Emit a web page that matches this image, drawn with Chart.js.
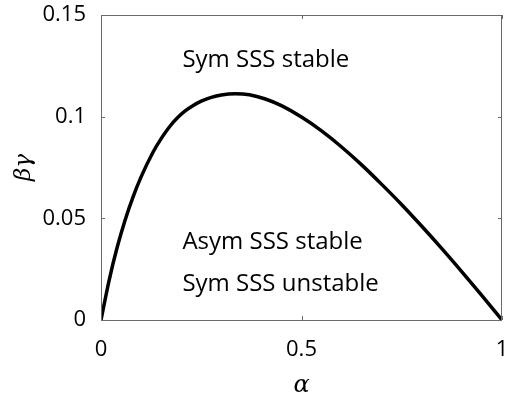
<!DOCTYPE html>
<html>
<head>
<meta charset="utf-8">
<script src="https://cdn.jsdelivr.net/npm/chart.js@4"></script>
<style>
  html, body { margin: 0; padding: 0; background: #ffffff; }
  #wrap { width: 506px; height: 400px; }
</style>
</head>
<body>
<div id="wrap"><canvas id="c" width="506" height="400"></canvas></div>
<script>
// ---- data ----
const alphaValues = [0, 0.02, 0.04, 0.06, 0.08, 0.10, 0.13, 0.15, 0.17, 0.19, 0.21, 0.23, 0.25, 0.275, 0.30, 0.335, 0.37, 0.41, 0.45, 0.50, 0.55, 0.60, 0.65, 0.70, 0.75, 0.80, 0.85, 0.90, 0.95, 1.0];
const betaGammaValues = [0, 0.0193, 0.0355, 0.0491, 0.0606, 0.0704, 0.0826, 0.0892, 0.0948, 0.0993, 0.1028, 0.1055, 0.1076, 0.1095, 0.1107, 0.1113, 0.1108, 0.1087, 0.1054, 0.0998, 0.0930, 0.0851, 0.0763, 0.0667, 0.0567, 0.0461, 0.0351, 0.0237, 0.0120, 0];
const xTicks = [0, 0.5, 1];
const yTicks = [0, 0.05, 0.1, 0.15];
const xTickLabels = ["0", "0.5", "1"];
const yTickLabels = ["0", "0.05", "0.1", "0.15"];
const annotationTexts = ["Sym SSS stable", "Asym SSS stable", "Sym SSS unstable"];
const annotationAlpha = [0.203, 0.203, 0.203];
const annotationBeta = [0.1246, 0.0348, 0.0143];

const points = alphaValues.map((a, i) => ({ x: a, y: betaGammaValues[i] }));

const framePlugin = {
  id: 'frame',
  afterDraw(chart) {
    const { ctx, chartArea: ca, scales } = chart;
    const xs = scales.x, ys = scales.y;
    ctx.save();
    ctx.strokeStyle = '#6a6a6a';
    ctx.lineWidth = 1;
    ctx.strokeRect(ca.left + 0.5, ca.top + 0.5, ca.right - ca.left - 1, ca.bottom - ca.top);
    const tl = 4;
    ctx.beginPath();
    xTicks.forEach(v => {
      const px = Math.round(xs.getPixelForValue(v)) + 0.5;
      ctx.moveTo(px, ca.bottom); ctx.lineTo(px, ca.bottom - tl);
      ctx.moveTo(px, ca.top); ctx.lineTo(px, ca.top + tl);
    });
    yTicks.forEach(v => {
      const py = Math.round(ys.getPixelForValue(v)) + 0.5;
      ctx.moveTo(ca.left, py); ctx.lineTo(ca.left + tl, py);
      ctx.moveTo(ca.right, py); ctx.lineTo(ca.right - tl, py);
    });
    ctx.stroke();
    ctx.fillStyle = '#000';
    ctx.font = '24px "Open Sans"';
    ctx.textAlign = 'left';
    ctx.textBaseline = 'alphabetic';
    annotationTexts.forEach((t, i) => {
      ctx.fillText(t, xs.getPixelForValue(annotationAlpha[i]), ys.getPixelForValue(annotationBeta[i]));
    });
    ctx.restore();
  }
};

new Chart(document.getElementById('c'), {
  type: 'scatter',
  data: {
    datasets: [{
      data: points,
      showLine: true,
      borderColor: '#000',
      borderWidth: 3.5,
      pointRadius: 0,
      fill: false,
      cubicInterpolationMode: 'monotone'
    }]
  },
  options: {
    responsive: false,
    animation: false,
    devicePixelRatio: 1,
    layout: { padding: { top: 15, right: 4, bottom: 0, left: 0 } },
    plugins: { legend: { display: false }, tooltip: { enabled: false } },
    scales: {
      x: {
        type: 'linear', min: 0, max: 1,
        grid: { display: false, drawTicks: false },
        border: { display: false },
        afterBuildTicks: s => { s.ticks = xTicks.map(v => ({ value: v })); },
        ticks: {
          padding: 17,
          color: '#000',
          font: { family: 'Open Sans', size: 22 },
          maxRotation: 0,
          callback: (v) => xTickLabels[xTicks.indexOf(v)]
        },
        title: {
          display: true, text: 'α', color: '#000',
          font: { family: 'DejaVu Serif', size: 24, style: 'italic' },
          padding: { top: 0, bottom: 0 }
        },
        afterFit: s => { s.height = 80; s.paddingLeft = 0; s.paddingRight = 0; }
      },
      y: {
        type: 'linear', min: 0, max: 0.15,
        grid: { display: false, drawTicks: false },
        border: { display: false },
        afterBuildTicks: s => { s.ticks = yTicks.map(v => ({ value: v })); },
        ticks: {
          padding: 15,
          color: '#000',
          font: { family: 'Open Sans', size: 22 },
          callback: (v) => yTickLabels[yTicks.indexOf(v)]
        },
        title: {
          display: true, text: 'βγ', color: '#000',
          font: { family: 'DejaVu Serif', size: 23, style: 'italic' },
          padding: { top: 10, bottom: 0 }
        },
        afterFit: s => { s.width = 101; s.paddingTop = 0; s.paddingBottom = 0; }
      }
    }
  },
  plugins: [framePlugin]
});
</script>
</body>
</html>
